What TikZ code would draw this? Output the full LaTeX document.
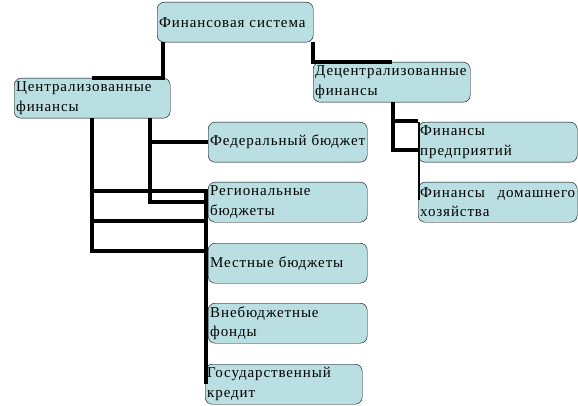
\documentclass[tikz,border=0pt]{standalone}
\usepackage{fontspec}
\setmainfont{Liberation Serif}[LetterSpace=6]
\usepackage{tikz}
\usetikzlibrary{calc,positioning}
\definecolor{boxfill}{HTML}{BADFE2}
\tikzset{
 fs box/.style={draw=black,fill=boxfill,rounded corners=7pt,anchor=north west,
                inner xsep=2pt,inner ysep=0pt,minimum height=40pt,align=left,
                font=\fontsize{15}{19.5}\selectfont},
 fs link/.style={line width=4pt},
 fs thin link/.style={line width=2pt}
}
\begin{document}
\begin{tikzpicture}[x=1pt,y=-1pt]
 \useasboundingbox (0,0) rectangle (578,406);
 % boxes
 \node[fs box,text width=152pt] (fin) at (157,2) {Финансовая система};
 \node[fs box,text width=152pt] (centr) at (14,78) {Централизованные\\финансы};
 \node[fs box,text width=153pt] (decentr) at (313,62) {Децентрализованные\\финансы};
 \node[fs box,text width=155pt] (federal) at (208,122) {Федеральный бюджет};
 \node[fs box,text width=155pt] (regional) at (208,182) {Региональные\\бюджеты};
 \node[fs box,text width=155pt] (local) at (208,243) {Местные бюджеты};
 \node[fs box,text width=155pt] (offbudget) at (208,303) {Внебюджетные\\фонды};
 \node[fs box,text width=153pt] (credit) at (205,364) {Государственный\\кредит};
 \node[fs box,text width=155pt] (firms) at (418,122) {Финансы\\предприятий};
 \node[fs box,text width=155pt] (house) at (418,182) {Финансы\hfill домашнего\\хозяйства};
 % connectors
 \draw[fs link] ($(fin.south west)+(6,0)$) |- ($(centr.north west)+(78,0)$);
 \draw[fs link] (fin.south east) |- ($(decentr.north west)+(79,0)$);
 \draw[fs link] ($(centr.south west)+(136,0)$) |- (federal.west);
 \draw[fs link] ($(centr.south west)+(136,0)$) |- (regional.west);
 \draw[fs link] ($(centr.south west)+(78,0)$) |- ($(regional.north west)+(-2,9)$);
 \draw[fs link] ($(centr.south west)+(78,0)$) |- ($(regional.south west)+(-2,-1)$);
 \draw[fs link] ($(centr.south west)+(78,0)$) |- ($(local.north west)+(-2,8)$);
 \draw[fs link] ($(regional.north west)+(-2,7)$) -- ($(credit.west)+(1,0)$);
 \draw[fs link] ($(decentr.south west)+(80,0)$) |- ($(firms.north west)+(0,-1)$);
 \draw[fs link] ($(decentr.south west)+(80,0)$) |- ($(firms.south west)+(0,-12)$);
 \draw[fs thin link] ($(firms.north west)+(1,0)$) -- ($(house.west)+(1,-2)$);
\end{tikzpicture}
\end{document}
